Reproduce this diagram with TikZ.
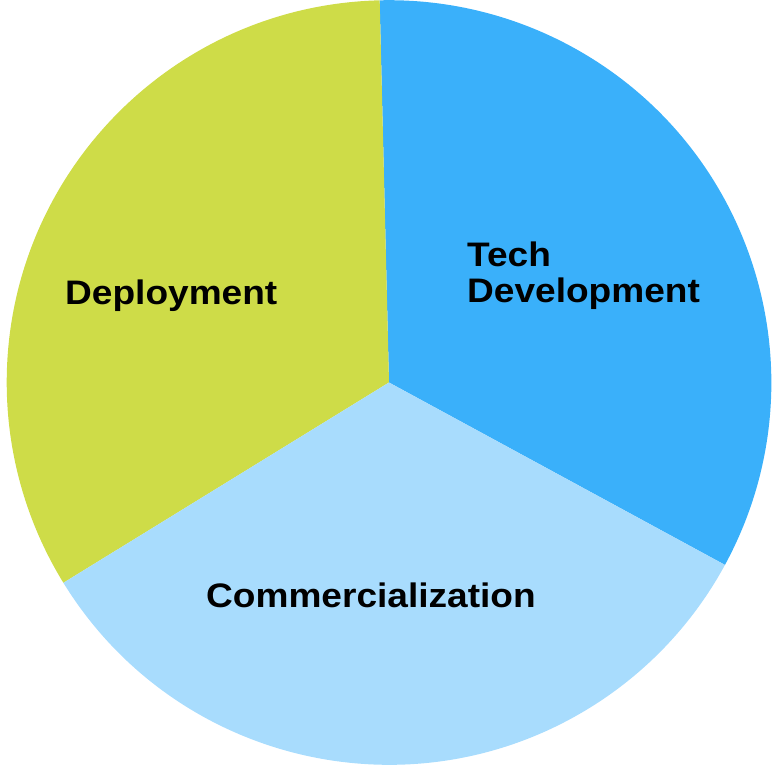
\documentclass[tikz,border=0pt]{standalone}
\usepackage{fontspec}
\newfontfamily\lblfont{Liberation Sans Bold}[FakeStretch=1.09]
\definecolor{techblue}{RGB}{58,176,250}
\definecolor{deploygreen}{RGB}{206,220,72}
\definecolor{commblue}{RGB}{168,220,253}
\tikzset{
  lbl/.style={anchor=base west, inner sep=0pt, text=black, font=\lblfont\fontsize{34}{36}\selectfont},
}
\begin{document}
\begin{tikzpicture}[x=1pt,y=1pt]
\useasboundingbox (0,0) rectangle (772,765);
\coordinate (c) at (389,382.5);
\def\R{382.3}
\fill[techblue] (c) -- ++(-28.5:\R) arc[start angle=-28.5, end angle=91.4, radius=\R] -- cycle;
\fill[deploygreen] (c) -- ++(91.4:\R) arc[start angle=91.4, end angle=211.6, radius=\R] -- cycle;
\fill[commblue] (c) -- ++(211.6:\R) arc[start angle=211.6, end angle=331.5, radius=\R] -- cycle;
\node[lbl] (dep) at (65,460) {Deployment};
\node[lbl] (tech) at (467,498) {Tech};
\node[lbl] (dev) at (467,462) {Development};
\node[lbl] (comm) at (206,157.7) {Commercialization};
\end{tikzpicture}
\end{document}
